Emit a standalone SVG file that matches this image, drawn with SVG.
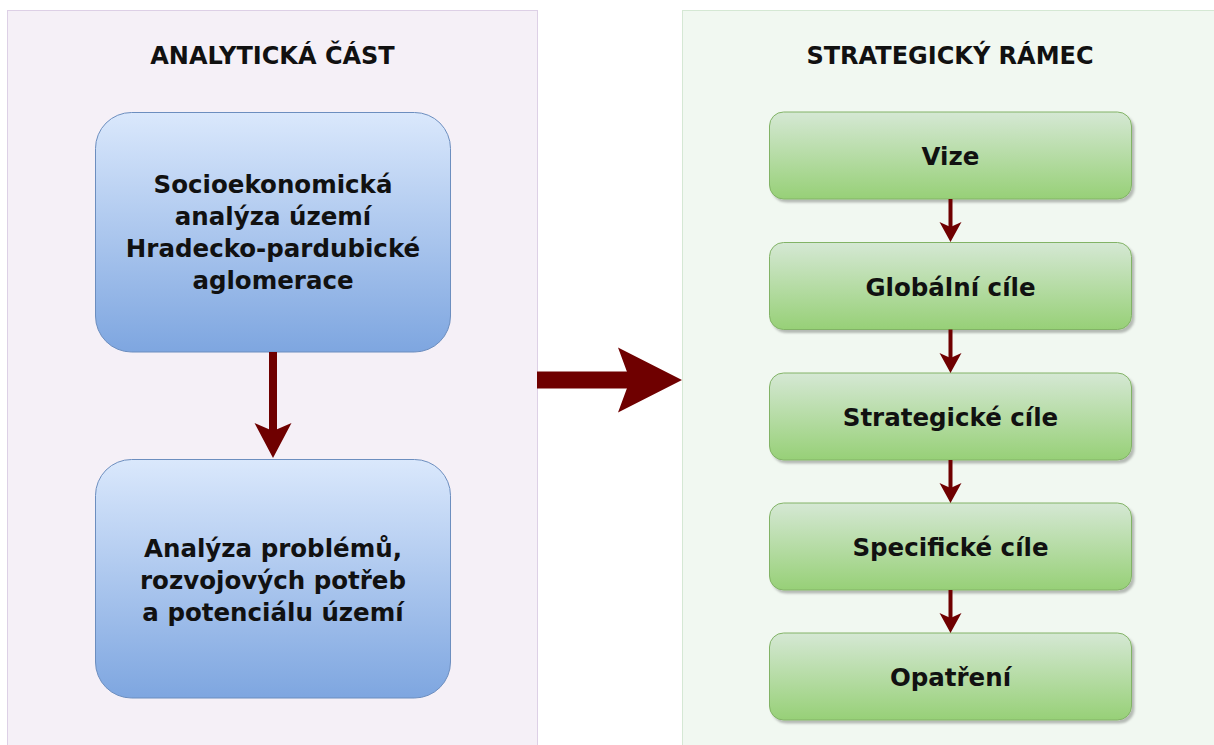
<svg xmlns="http://www.w3.org/2000/svg" width="1214" height="745" viewBox="0 0 1214 745">
  <style>
    .title { font-family: "DejaVu Sans", Verdana, sans-serif; font-weight: bold; font-size: 24px; fill: #111; text-anchor: middle; }
    .lbl { font-family: "DejaVu Sans", Verdana, sans-serif; font-weight: bold; font-size: 24.5px; fill: #111; text-anchor: middle; }
    .blue { fill: url(#gBlue); stroke: #6c8ebf; stroke-width: 1; }
    .green { fill: url(#gGreen); stroke: #82b366; stroke-width: 1; filter: url(#shadow); }
    .conn { stroke: #6f0000; fill: none; }
  </style>
  <defs>
    <linearGradient id="gBlue" x1="0" y1="0" x2="0" y2="1">
      <stop offset="0" stop-color="#dae8fc"/>
      <stop offset="1" stop-color="#7ea6e0"/>
    </linearGradient>
    <linearGradient id="gGreen" x1="0" y1="0" x2="0" y2="1">
      <stop offset="0" stop-color="#d5e8d4"/>
      <stop offset="1" stop-color="#97d077"/>
    </linearGradient>
    <filter id="shadow" x="-5%" y="-10%" width="115%" height="130%">
      <feDropShadow dx="2.5" dy="3" stdDeviation="1" flood-color="#000" flood-opacity="0.25"/>
    </filter>
    <marker id="headS" markerUnits="userSpaceOnUse" markerWidth="20" markerHeight="22" refX="5" refY="11" orient="auto" overflow="visible">
      <path d="M0,0 L20,11 L0,22 L5,11 Z" fill="#6f0000"/>
    </marker>
    <marker id="headM" markerUnits="userSpaceOnUse" markerWidth="35" markerHeight="37" refX="8" refY="18.5" orient="auto" overflow="visible">
      <path d="M0,0 L35,18.5 L0,37 L8,18.5 Z" fill="#6f0000"/>
    </marker>
    <marker id="headL" markerUnits="userSpaceOnUse" markerWidth="64" markerHeight="65" refX="12" refY="32.5" orient="auto" overflow="visible">
      <path d="M0,0 L64,32.5 L0,65 L12,32.5 Z" fill="#6f0000"/>
    </marker>
  </defs>

  <rect width="1214" height="745" fill="#ffffff"/>

  <g id="panel-analyticka">
    <rect x="7.5" y="10.5" width="530" height="745" fill="#f5f0f7" stroke="#ddd0e6" stroke-width="1"/>
    <text class="title" x="272.5" y="63.5">ANALYTICKÁ ČÁST</text>
  </g>

  <g id="panel-strategicky">
    <rect x="682.5" y="10.5" width="545" height="745" fill="#f1f8f1" stroke="#d5e8d4" stroke-width="1"/>
    <text class="title" x="950" y="63.5">STRATEGICKÝ RÁMEC</text>
  </g>

  <g id="node-socio">
    <rect class="blue" x="95.5" y="112.5" width="355" height="239.5" rx="36" ry="36"/>
    <text class="lbl" x="273" y="193">Socioekonomická</text>
    <text class="lbl" x="273" y="225">analýza území</text>
    <text class="lbl" x="273" y="257">Hradecko-pardubické</text>
    <text class="lbl" x="273" y="289">aglomerace</text>
  </g>

  <g id="node-analyza">
    <rect class="blue" x="95.5" y="459.5" width="355" height="238.5" rx="36" ry="36"/>
    <text class="lbl" x="273" y="557">Analýza problémů,</text>
    <text class="lbl" x="273" y="589">rozvojových potřeb</text>
    <text class="lbl" x="273" y="621">a potenciálu území</text>
  </g>

  <g id="node-vize">
    <rect class="green" x="769.5" y="112" width="362" height="87" rx="14" ry="14"/>
    <text class="lbl" x="950.5" y="165">Vize</text>
  </g>
  <g id="node-globalni">
    <rect class="green" x="769.5" y="242.5" width="362" height="87" rx="14" ry="14"/>
    <text class="lbl" x="950.5" y="295.5">Globální cíle</text>
  </g>
  <g id="node-strategicke">
    <rect class="green" x="769.5" y="373" width="362" height="87" rx="14" ry="14"/>
    <text class="lbl" x="950.5" y="426">Strategické cíle</text>
  </g>
  <g id="node-specificke">
    <rect class="green" x="769.5" y="503" width="362" height="87" rx="14" ry="14"/>
    <text class="lbl" x="950.5" y="556">Specifické cíle</text>
  </g>
  <g id="node-opatreni">
    <rect class="green" x="769.5" y="633" width="362" height="87" rx="14" ry="14"/>
    <text class="lbl" x="950.5" y="686">Opatření</text>
  </g>

  <g id="connectors">
    <line class="conn" x1="273" y1="352" x2="273" y2="431" stroke-width="8" marker-end="url(#headM)"/>
    <line class="conn" x1="537" y1="380" x2="630" y2="380" stroke-width="17" marker-end="url(#headL)"/>
    <line class="conn" x1="950.5" y1="199" x2="950.5" y2="227" stroke-width="4" marker-end="url(#headS)"/>
    <line class="conn" x1="950.5" y1="329.5" x2="950.5" y2="358" stroke-width="4" marker-end="url(#headS)"/>
    <line class="conn" x1="950.5" y1="460" x2="950.5" y2="488" stroke-width="4" marker-end="url(#headS)"/>
    <line class="conn" x1="950.5" y1="590" x2="950.5" y2="618" stroke-width="4" marker-end="url(#headS)"/>
  </g>
</svg>
